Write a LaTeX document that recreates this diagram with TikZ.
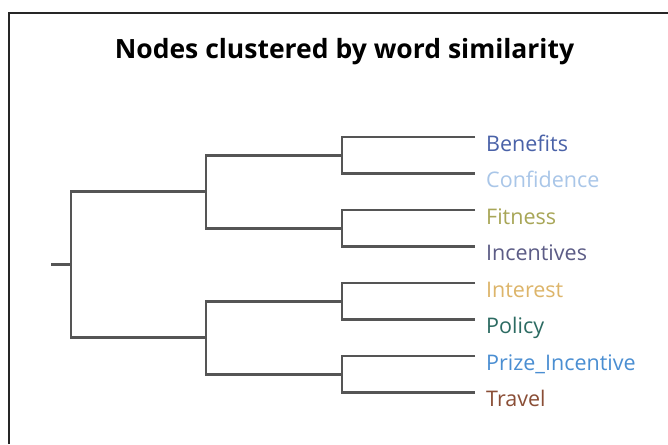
\documentclass[tikz,border=0pt]{standalone}
\usepackage{fontspec}
\setmainfont{Open Sans}
\definecolor{cBen}{HTML}{4A62A8}
\definecolor{cCon}{HTML}{A9C6E8}
\definecolor{cFit}{HTML}{A8A657}
\definecolor{cInc}{HTML}{5C5C86}
\definecolor{cInt}{HTML}{DDB56A}
\definecolor{cPol}{HTML}{2C6B62}
\definecolor{cPri}{HTML}{4A8ED2}
\definecolor{cTra}{HTML}{8A4E36}
\definecolor{cLine}{HTML}{555555}
\begin{document}
\begin{tikzpicture}[x=1pt,y=-1pt,
  tree/.style={draw=cLine,line width=2.6pt},
  leaf/.style={anchor=base west,inner sep=0pt,font=\fontsize{21.5}{24}\selectfont},
  frame/.style={draw=black!85,line width=2.4pt}]
\useasboundingbox (0,0) rectangle (668,444);
\fill[white] (0,0) rectangle (668,444);
\draw[frame] (9,444) -- (9,13) -- (668,13);
\node[anchor=base,inner sep=0pt,font=\fontsize{26.5}{30}\selectfont\bfseries] (title) at (344.5,58) {Nodes clustered by word similarity};
% leaf ends
\coordinate (l1) at (475,137);
\coordinate (l2) at (475,173.5);
\coordinate (l3) at (475,210);
\coordinate (l4) at (475,246.5);
\coordinate (l5) at (475,283);
\coordinate (l6) at (475,319.5);
\coordinate (l7) at (475,356);
\coordinate (l8) at (475,392.5);
\coordinate (c1) at (342,155.25);
\coordinate (c2) at (342,228.25);
\coordinate (c3) at (342,301.25);
\coordinate (c4) at (342,374.25);
\coordinate (b1) at (206,191.75);
\coordinate (b2) at (206,337.75);
\coordinate (r) at (71,264.75);
\coordinate (s) at (51,264.75);
% labels
\node[leaf,text=cBen] (n1) at (486,151) {Benefits};
\node[leaf,text=cCon] (n2) at (486,187.5) {Confidence};
\node[leaf,text=cFit] (n3) at (486,224) {Fitness};
\node[leaf,text=cInc] (n4) at (486,260.5) {Incentives};
\node[leaf,text=cInt] (n5) at (486,297) {Interest};
\node[leaf,text=cPol] (n6) at (486,333.5) {Policy};
\node[leaf,text=cPri] (n7) at (486,370) {Prize\_Incentive};
\node[leaf,text=cTra] (n8) at (486,406.5) {Travel};
% tree
\draw[tree] (l1) -| (c1) |- (l2);
\draw[tree] (l3) -| (c2) |- (l4);
\draw[tree] (l5) -| (c3) |- (l6);
\draw[tree] (l7) -| (c4) |- (l8);
\draw[tree] (c1) -| (b1) |- (c2);
\draw[tree] (c3) -| (b2) |- (c4);
\draw[tree] (b1) -| (r) |- (b2);
\draw[tree] (s) -- (r);
\end{tikzpicture}
\end{document}
